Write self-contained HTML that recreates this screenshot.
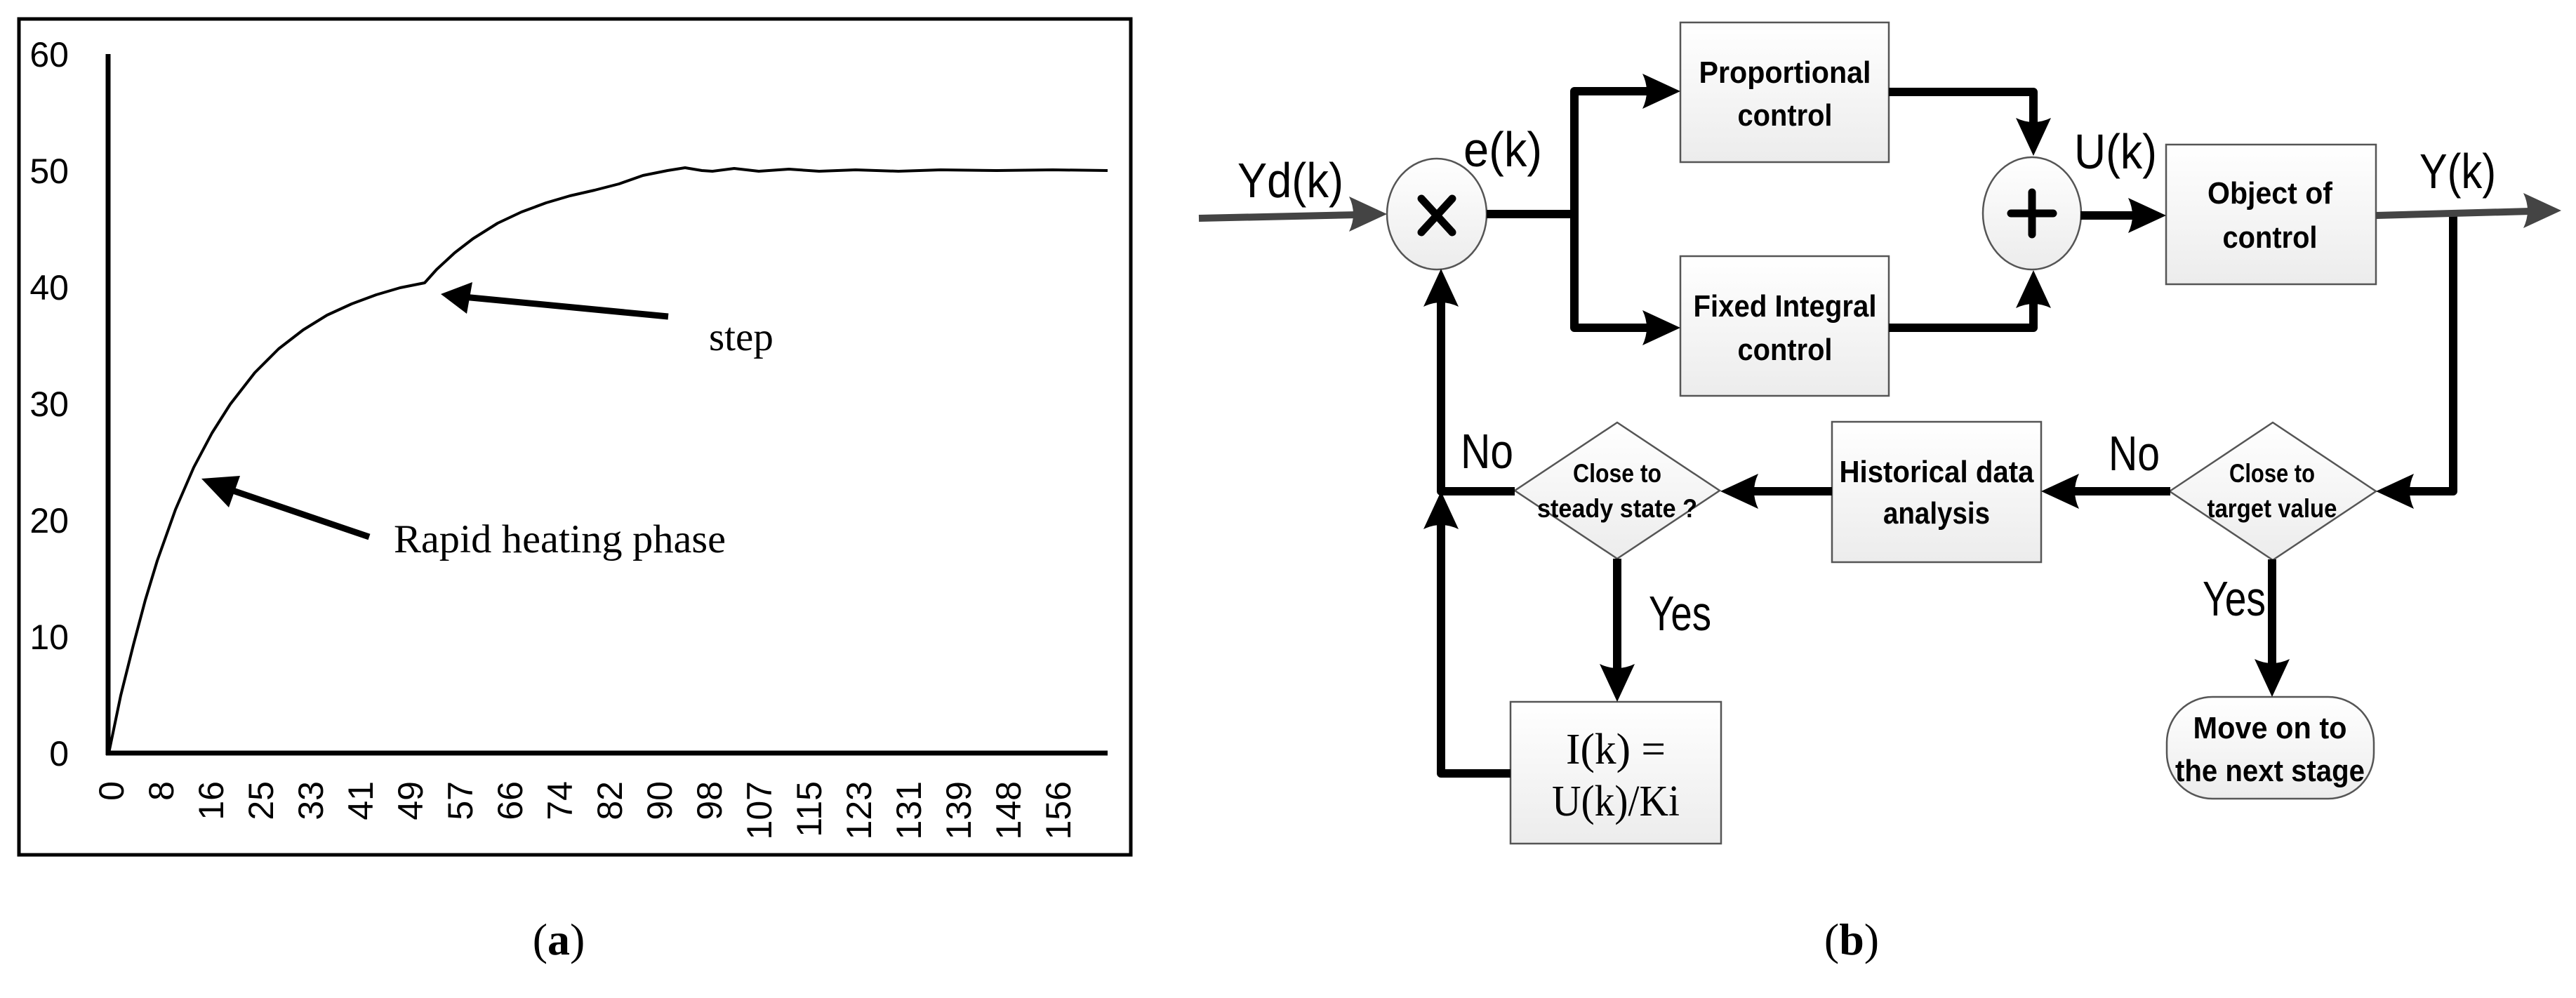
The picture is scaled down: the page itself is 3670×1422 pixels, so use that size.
<!DOCTYPE html>
<html><head><meta charset="utf-8"><style>
html,body{margin:0;padding:0;background:#fff;}
svg{display:block;}
.sans{font-family:"Liberation Sans",sans-serif;}
.serif{font-family:"Liberation Serif",serif;}
</style></head><body>
<svg width="3670" height="1422" viewBox="0 0 3670 1422" xmlns="http://www.w3.org/2000/svg">
<defs>
<linearGradient id="g" x1="0" y1="0" x2="0" y2="1"><stop offset="0" stop-color="#ffffff"/><stop offset="1" stop-color="#ececec"/></linearGradient>
<path id="ah" d="M0,0 L-54,-25 Q-42,0 -54,25 Z"/>
</defs>
<!-- Panel a -->
<rect x="27" y="27" width="1584" height="1191" fill="none" stroke="#000" stroke-width="5"/>
<line x1="154" y1="77" x2="154" y2="1076" stroke="#000" stroke-width="7"/>
<line x1="151" y1="1073" x2="1578" y2="1073" stroke="#000" stroke-width="7"/>
<g class="sans" font-size="50" text-anchor="end">
<text x="98" y="95">60</text><text x="98" y="261">50</text><text x="98" y="427">40</text>
<text x="98" y="593">30</text><text x="98" y="759">20</text><text x="98" y="925">10</text><text x="98" y="1091">0</text>
</g>
<g class="sans" font-size="50" text-anchor="end">
<text transform="translate(158,1113) rotate(-90)" dy="0.36em">0</text>
<text transform="translate(229,1113) rotate(-90)" dy="0.36em">8</text>
<text transform="translate(300,1113) rotate(-90)" dy="0.36em">16</text>
<text transform="translate(371,1113) rotate(-90)" dy="0.36em">25</text>
<text transform="translate(442,1113) rotate(-90)" dy="0.36em">33</text>
<text transform="translate(513,1113) rotate(-90)" dy="0.36em">41</text>
<text transform="translate(584,1113) rotate(-90)" dy="0.36em">49</text>
<text transform="translate(655,1113) rotate(-90)" dy="0.36em">57</text>
<text transform="translate(726,1113) rotate(-90)" dy="0.36em">66</text>
<text transform="translate(797,1113) rotate(-90)" dy="0.36em">74</text>
<text transform="translate(868,1113) rotate(-90)" dy="0.36em">82</text>
<text transform="translate(939,1113) rotate(-90)" dy="0.36em">90</text>
<text transform="translate(1010,1113) rotate(-90)" dy="0.36em">98</text>
<text transform="translate(1081,1113) rotate(-90)" dy="0.36em">107</text>
<text transform="translate(1152,1113) rotate(-90)" dy="0.36em">115</text>
<text transform="translate(1223,1113) rotate(-90)" dy="0.36em">123</text>
<text transform="translate(1294,1113) rotate(-90)" dy="0.36em">131</text>
<text transform="translate(1365,1113) rotate(-90)" dy="0.36em">139</text>
<text transform="translate(1436,1113) rotate(-90)" dy="0.36em">148</text>
<text transform="translate(1507,1113) rotate(-90)" dy="0.36em">156</text>
</g>
<polyline fill="none" stroke="#000" stroke-width="4" stroke-linejoin="round" points="155,1073 172,991 190,919 207,855 224,799 250,726 276,666 302,617 328,576 363,531 397,497 432,470 466,449 501,433 536,420 570,410 605,403 622,384 648,360 674,340 709,318 743,302 778,289 812,279 847,271 882,262 916,250 951,243 976,239 1000,243 1015,244 1046,240 1081,244 1124,241 1167,244 1219,242 1280,244 1340,242 1420,243 1500,242 1578,243"/>
<line x1="952" y1="451" x2="660" y2="423" stroke="#000" stroke-width="9"/>
<path d="M628,419 L673,402 L665,447 Z" fill="#000"/>
<line x1="526" y1="765" x2="320" y2="695" stroke="#000" stroke-width="9"/>
<path d="M287,682 L342,678 L326,723 Z" fill="#000"/>
<text class="serif" x="1010" y="499" font-size="57">step</text>
<text class="serif" x="561" y="787" font-size="57" textLength="473" lengthAdjust="spacingAndGlyphs">Rapid heating phase</text>
<text class="serif" x="796" y="1360" font-size="64" text-anchor="middle">(<tspan font-weight="bold">a</tspan>)</text>

<!-- Panel b -->
<g stroke="#555" stroke-width="2.5" fill="url(#g)">
<rect x="2394" y="32" width="297" height="199"/>
<rect x="2394" y="365" width="297" height="199"/>
<rect x="3086" y="206" width="299" height="199"/>
<rect x="2610" y="601" width="298" height="200"/>
<rect x="2152" y="1000" width="300" height="202"/>
<rect x="3087" y="993" width="295" height="145" rx="65" ry="65"/>
<polygon points="2158,699 2304,602 2450,699 2304,796"/>
<polygon points="3091,700 3238,602 3385,700 3238,798"/>
<ellipse cx="2047" cy="305" rx="71" ry="79"/>
<ellipse cx="2895" cy="304" rx="70" ry="80"/>
</g>
<g stroke="#000" stroke-width="11" stroke-linecap="round">
<line x1="2025" y1="283" x2="2069" y2="331"/><line x1="2069" y1="283" x2="2025" y2="331"/>
<line x1="2895" y1="274" x2="2895" y2="334"/><line x1="2865" y1="304" x2="2925" y2="304"/>
</g>
<g stroke="#000" stroke-width="12" fill="none" stroke-linejoin="round">
<polyline points="2118,305 2243,305"/>
<polyline points="2360,130 2243,130 2243,467 2360,467"/>
<polyline points="2691,131 2897,131 2897,190"/>
<polyline points="2691,467 2897,467 2897,420"/>
<polyline points="2964,307 3050,307"/>
<polyline points="3495,307 3495,700 3420,700"/>
<polyline points="3092,700 2945,700"/>
<polyline points="2610,700 2490,700"/>
<polyline points="2158,700 2053,700 2053,420"/>
<polyline points="2152,1102 2053,1102 2053,740"/>
<polyline points="2304,796 2304,960"/>
<polyline points="3237,797 3237,955"/>
</g>
<g stroke="#444" stroke-width="10" fill="none">
<line x1="1708" y1="311" x2="1935" y2="306"/>
<line x1="3385" y1="307" x2="3605" y2="301"/>
</g>
<g fill="#444">
<use href="#ah" transform="translate(1976,305)"/>
<use href="#ah" transform="translate(3649,300)"/>
</g>
<g fill="#000">
<use href="#ah" transform="translate(2394,130)"/>
<use href="#ah" transform="translate(2394,467)"/>
<use href="#ah" transform="translate(2897,222) rotate(90)"/>
<use href="#ah" transform="translate(2897,385) rotate(-90)"/>
<use href="#ah" transform="translate(3086,307)"/>
<use href="#ah" transform="translate(3385,700) rotate(180)"/>
<use href="#ah" transform="translate(2908,700) rotate(180)"/>
<use href="#ah" transform="translate(2451,700) rotate(180)"/>
<use href="#ah" transform="translate(2053,383) rotate(-90)"/>
<use href="#ah" transform="translate(2053,700) rotate(-90)"/>
<use href="#ah" transform="translate(2304,1000) rotate(90)"/>
<use href="#ah" transform="translate(3237,993) rotate(90)"/>
</g>
<g class="sans" font-weight="bold" font-size="44" text-anchor="middle" lengthAdjust="spacingAndGlyphs">
<text x="2543" y="118" textLength="245" lengthAdjust="spacingAndGlyphs">Proportional</text>
<text x="2543" y="179" textLength="135" lengthAdjust="spacingAndGlyphs">control</text>
<text x="2543" y="451" textLength="261" lengthAdjust="spacingAndGlyphs">Fixed Integral</text>
<text x="2543" y="513" textLength="135" lengthAdjust="spacingAndGlyphs">control</text>
<text x="3234" y="290" textLength="178" lengthAdjust="spacingAndGlyphs">Object of</text>
<text x="3234" y="353" textLength="135" lengthAdjust="spacingAndGlyphs">control</text>
<text x="2759" y="687" textLength="277" lengthAdjust="spacingAndGlyphs">Historical data</text>
<text x="2759" y="746" textLength="152" lengthAdjust="spacingAndGlyphs">analysis</text>
<text x="3234" y="1052" textLength="219" lengthAdjust="spacingAndGlyphs">Move on to</text>
<text x="3234" y="1113" textLength="270" lengthAdjust="spacingAndGlyphs">the next stage</text>
</g>
<g class="sans" font-weight="bold" font-size="37" text-anchor="middle">
<text x="2304" y="687" textLength="126" lengthAdjust="spacingAndGlyphs">Close to</text>
<text x="2304" y="737" textLength="228" lengthAdjust="spacingAndGlyphs">steady state ?</text>
<text x="3237" y="687" textLength="122" lengthAdjust="spacingAndGlyphs">Close to</text>
<text x="3237" y="737" textLength="185" lengthAdjust="spacingAndGlyphs">target value</text>
</g>
<g class="serif" font-size="62" text-anchor="middle">
<text x="2302" y="1088" textLength="142" lengthAdjust="spacingAndGlyphs">I(k) =</text>
<text x="2302" y="1162" textLength="182" lengthAdjust="spacingAndGlyphs">U(k)/Ki</text>
</g>
<g class="sans" font-size="70">
<text x="1763" y="281" textLength="151" lengthAdjust="spacingAndGlyphs">Yd(k)</text>
<text x="2085" y="237" textLength="112" lengthAdjust="spacingAndGlyphs">e(k)</text>
<text x="2955" y="240" textLength="118" lengthAdjust="spacingAndGlyphs">U(k)</text>
<text x="3447" y="268" textLength="109" lengthAdjust="spacingAndGlyphs">Y(k)</text>
<text x="3004" y="670" textLength="73" lengthAdjust="spacingAndGlyphs">No</text>
<text x="2081" y="667" textLength="75" lengthAdjust="spacingAndGlyphs">No</text>
<text x="2349" y="898" textLength="89" lengthAdjust="spacingAndGlyphs">Yes</text>
<text x="3138" y="877" textLength="90" lengthAdjust="spacingAndGlyphs">Yes</text>
</g>
<text class="serif" x="2638" y="1360" font-size="64" text-anchor="middle">(<tspan font-weight="bold">b</tspan>)</text>
</svg>
</body></html>
